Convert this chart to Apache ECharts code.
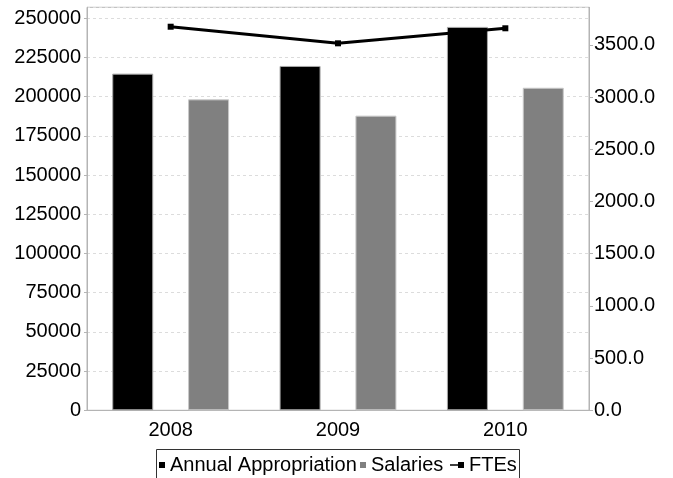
<!DOCTYPE html>
<html>
<head>
<meta charset="utf-8">
<script src="https://cdn.jsdelivr.net/npm/echarts@6/dist/echarts.min.js"></script>
<style>
  html, body { margin: 0; padding: 0; background: #fff; }
  #chart { width: 673px; height: 478px; }
</style>
</head>
<body>
<div id="chart"></div>
<script>
// Fiscal years on the category axis
const years = ['2008', '2009', '2010'];

// Dollar amounts (left axis)
const annualAppropriation = [214700, 219600, 244500];
const salaries = [198300, 187900, 205700];

// Full-time equivalents (right axis)
const ftes = [3674, 3515, 3659];

const FONT = "'Liberation Sans', Arial, sans-serif";
const chart = echarts.init(document.getElementById('chart'), null, { renderer: 'canvas' });

const legendText = { fontFamily: FONT, fontSize: 20, color: '#000' };

chart.setOption({
  animation: false,
  backgroundColor: '#fff',
  textStyle: { fontFamily: FONT },
  grid: {
    left: 87, right: 84, top: 7.3, bottom: 67.7,
    show: true, borderColor: '#b4b4b4', borderWidth: 1,
    containLabel: false
  },
  legend: [
    {
      data: [{ name: 'Annual Appropriation', icon: 'rect' }],
      left: 159, top: 455, padding: 0,
      itemWidth: 6, itemHeight: 6,
      itemStyle: { borderWidth: 0 },
      textStyle: legendText, selectedMode: false
    },
    {
      data: [{ name: 'Salaries', icon: 'rect' }],
      left: 360, top: 455, padding: 0,
      itemWidth: 6, itemHeight: 6,
      itemStyle: { borderWidth: 0 },
      textStyle: legendText, selectedMode: false
    },
    {
      data: [{ name: 'FTEs', icon: 'path://M0,2.2H10V3.8H0Z M8,0H14V6H8Z' }],
      left: 450, top: 455, padding: 0,
      itemWidth: 14, itemHeight: 6,
      itemStyle: { color: '#000', borderWidth: 0 },
      textStyle: legendText, selectedMode: false
    }
  ],
  graphic: [{
    type: 'rect',
    shape: { x: 156.5, y: 449.5, width: 363, height: 40 },
    style: { fill: 'none', stroke: '#333', lineWidth: 1 },
    silent: true
  }],
  xAxis: {
    type: 'category',
    data: years,
    boundaryGap: true,
    axisLine: { show: true, lineStyle: { color: '#b4b4b4', width: 1 } },
    axisTick: { show: false },
    axisLabel: { fontFamily: FONT, fontSize: 20, color: '#000', margin: 10 }
  },
  yAxis: [
    {
      type: 'value',
      min: 0, max: 257000, interval: 25000,
      position: 'left',
      axisLine: { show: true, lineStyle: { color: '#b4b4b4' } },
      axisTick: { show: true, length: 3, lineStyle: { color: '#b4b4b4' } },
      axisLabel: {
        fontFamily: FONT, fontSize: 20, color: '#000', margin: 6, showMaxLabel: false,
        formatter: v => String(v)
      },
      splitLine: { show: true, lineStyle: { color: '#dcdcdc', type: [3, 3], width: 1 } }
    },
    {
      type: 'value',
      min: 0, max: 3860, interval: 500,
      position: 'right',
      axisLine: { show: true, lineStyle: { color: '#b4b4b4' } },
      axisTick: { show: true, length: 4, lineStyle: { color: '#b4b4b4' } },
      axisLabel: {
        fontFamily: FONT, fontSize: 20, color: '#000', margin: 5, showMaxLabel: false,
        formatter: v => v.toFixed(1)
      },
      splitLine: { show: false }
    }
  ],
  series: [
    {
      name: 'Annual Appropriation',
      type: 'bar',
      yAxisIndex: 0,
      data: annualAppropriation,
      barWidth: 41,
      barGap: '85%',
      itemStyle: { color: '#000', borderColor: '#a8a8a8', borderWidth: 1 }
    },
    {
      name: 'Salaries',
      type: 'bar',
      yAxisIndex: 0,
      data: salaries,
      barWidth: 41,
      barGap: '85%',
      itemStyle: { color: '#808080', borderColor: '#c8c8c8', borderWidth: 1 }
    },
    {
      name: 'FTEs',
      type: 'line',
      yAxisIndex: 1,
      data: ftes,
      symbol: 'rect',
      symbolSize: 6,
      lineStyle: { color: '#000', width: 3 },
      itemStyle: { color: '#000' },
      z: 5
    }
  ]
});
</script>
</body>
</html>
